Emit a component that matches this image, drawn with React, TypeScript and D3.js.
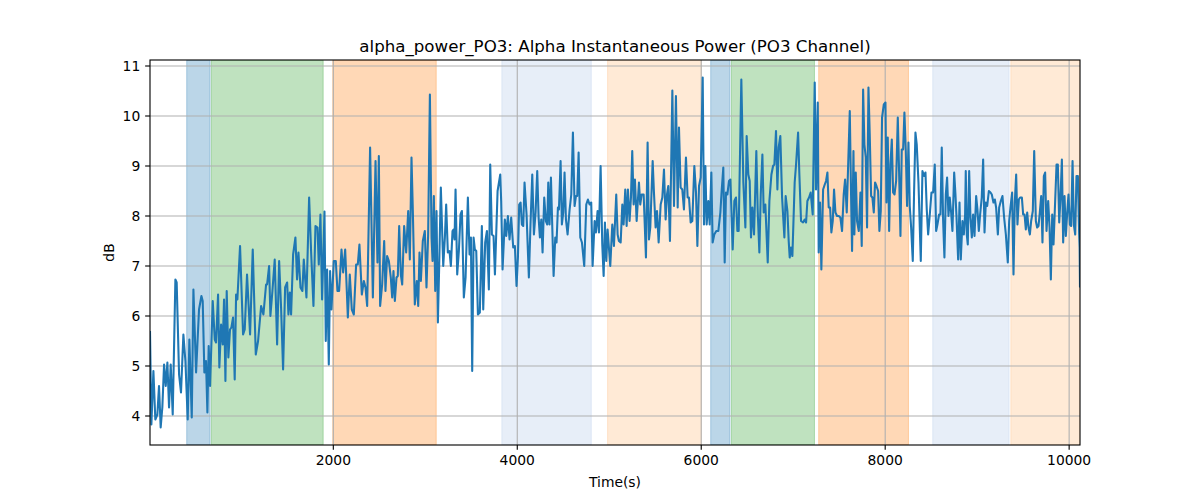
import React from "react";
import * as d3 from "d3";

// ---- data ----
const chartTitle = "alpha_power_PO3: Alpha Instantaneous Power (PO3 Channel)";
const xLabel = "Time(s)";
const yLabel = "dB";
const xTicks = [2000, 4000, 6000, 8000, 10000];
const yTicks = [4, 5, 6, 7, 8, 9, 10, 11];

// shaded epochs [start s, end s]
const bandStart = [406, 674, 1994, 3832, 4982, 6103, 6328, 7277, 8517, 9366];
const bandEnd = [660, 1890, 3119, 4805, 6001, 6312, 7231, 8253, 9347, 10118];
const bandColor = [
  "#1f77b4", "#2ca02c", "#ff7f0e", "#aec7e8", "#ffbb78",
  "#1f77b4", "#2ca02c", "#ff7f0e", "#aec7e8", "#ffbb78",
];

// [time (s), power (dB)]
const alphaPower: [number, number][] = [
  [7,5.7],[22,3.83],[44,4.9],[65,3.93],[87,4.03],[105,4.6],[123,3.77],[141,4.17],[160,5.03],[178,4.6],
  [196,5.07],[214,4.17],[232,5.03],[254,4.03],[283,6.73],[297,6.67],[323,4.83],[344,4.47],[370,5.63],[392,5.1],
  [417,3.93],[435,5.53],[461,3.97],[479,6.53],[508,4.87],[540,6.13],[566,6.4],[580,6.3],[598,4.87],[616,5.1],
  [631,4.07],[645,5.4],[660,4.6],[689,6.3],[711,5.53],[725,5.47],[747,6.43],[761,4.97],[780,5.83],[798,5.43],
  [812,6.33],[827,4.7],[841,6.5],[859,5.17],[877,5.73],[892,5.77],[910,5.97],[928,4.73],[943,6.43],[957,6.33],
  [986,7.4],[1019,5.63],[1037,5.73],[1062,6.83],[1095,5.63],[1124,7.33],[1157,5.23],[1182,5.5],[1215,6.2],[1240,6.03],
  [1269,6.63],
  [1280,6.63],[1302,7.0],[1316,6.0],[1338,6.5],[1363,7.13],[1389,5.43],[1411,7.1],[1432,6.17],[1454,4.93],[1476,6.57],
  [1498,6.67],[1512,6.03],[1527,6.47],[1541,6.03],[1563,7.23],[1588,7.57],[1606,6.73],[1621,7.27],[1643,6.57],[1664,6.5],
  [1679,7.13],[1708,6.37],[1737,8.37],[1759,7.27],[1784,6.2],[1806,7.8],[1828,7.77],[1842,7.03],[1860,8.03],[1878,6.33],
  [1904,8.09],[1918,5.5],[1933,6.93],[1951,5.03],[1965,6.9],[1980,6.13],[2005,7.1],[2027,7.1],[2045,6.5],[2063,6.5],
  [2089,7.33],[2107,6.87],[2129,7.33],[2158,5.97],[2179,6.83],[2201,6.13],[2223,6.03],[2248,7.03],[2266,7.03],[2284,7.43],
  [2310,6.43],[2332,6.7],[2350,6.57],[2368,6.2],[2400,9.37],[2430,6.37],[2459,9.1],[2480,7.07],[2495,9.2],[2509,6.2],
  [2531,6.63],[2553,7.5],[2567,6.5],[2585,7.2],[2604,7.1],[2625,6.77],[2640,6.37],[2654,6.9],[2669,6.3],[2687,6.77],
  [2701,6.8],[2716,7.8],[2734,6.83],[2749,6.63],[2770,7.8],[2792,7.27],[2814,8.1],[2832,7.13],[2850,9.17],[2865,8.07],
  [2886,6.23],[2908,6.7],[2923,6.2],[2937,7.27],[2952,6.7],[2973,7.5],[2995,7.7],[3013,6.57],[3031,7.63],[3050,10.43],
  [3068,7.57],[3079,7.1],[3093,8.4],[3108,6.5],[3122,8.1],[3137,5.87],[3151,7.0],[3169,8.57],[3195,7.0],[3213,7.57],
  [3227,8.23],[3245,7.27],[3263,7.3],[3278,7.0],[3296,7.7],[3307,7.73],[3318,7.53],[3329,8.53],[3347,6.83],[3365,7.3],
  [3383,8.03],[3398,8.1],[3419,6.37],[3438,6.77],[3463,8.37],[3481,7.23],[3496,7.57],[3510,4.9],[3525,7.57],[3539,7.33],
  [3554,7.3],[3572,6.03],[3593,6.07],[3615,7.8],[3630,6.13],[3651,7.47],[3670,7.7],[3691,6.53],[3706,9.03],[3724,7.63],
  [3742,7.6],[3757,6.83],[3786,8.5],
  [3815,8.83],[3825,8.3],[3840,6.93],[3865,7.93],[3880,7.6],[3898,8.0],[3916,7.53],[3934,7.97],[3956,7.37],[3974,7.4],
  [3992,6.6],[4007,7.17],[4021,8.23],[4036,8.27],[4050,7.83],[4065,7.8],[4079,8.67],[4101,8.03],[4126,6.77],[4145,7.9],
  [4163,8.83],[4181,7.63],[4199,8.07],[4217,8.9],[4232,7.97],[4246,7.57],[4261,7.93],[4275,7.27],[4293,8.37],[4311,7.9],
  [4326,7.83],[4337,8.67],[4351,7.83],[4366,8.77],[4395,6.8],[4413,7.57],[4427,7.47],[4442,8.17],[4453,8.13],[4471,9.1],
  [4485,7.83],[4500,8.07],[4514,8.87],[4529,7.93],[4547,7.63],[4569,8.13],[4587,8.43],[4605,9.67],[4623,8.2],[4638,8.4],
  [4652,8.4],[4667,9.27],[4685,7.57],[4703,7.47],[4728,7.0],[4750,8.23],[4768,8.33],[4786,8.23],[4804,8.27],[4819,7.0],
  [4841,7.9],[4855,7.67],[4873,8.1],[4888,7.67],[4906,9.0],[4924,7.43],[4939,6.8],[4953,7.87],[4968,7.1],[4982,7.73],
  [5011,7.0],[5033,7.83],[5051,7.4],
  [5076,8.43],[5091,7.63],[5105,7.5],[5124,7.47],[5142,8.23],[5156,7.83],[5174,8.53],[5189,7.8],[5203,8.53],[5221,7.9],
  [5236,8.37],[5250,9.3],[5265,8.23],[5279,8.73],[5298,7.9],[5323,8.67],[5337,8.23],[5352,8.43],[5374,8.43],[5399,7.17],
  [5417,9.47],[5432,7.53],[5446,7.77],[5472,9.1],[5486,8.47],[5504,7.77],[5519,8.1],[5537,7.47],[5559,8.23],[5577,8.37],
  [5595,8.93],[5613,7.93],[5628,8.43],[5642,8.6],[5660,7.5],[5686,10.51],[5704,8.2],[5725,10.4],[5744,8.17],[5758,9.77],
  [5776,8.57],[5794,8.53],[5812,8.13],[5834,9.17],[5852,8.37],[5867,8.37],[5885,7.87],[5903,7.9],[5925,9.0],[5943,8.47],
  [5958,7.4],[5976,8.6],[5994,8.77],[6016,10.77],[6030,7.83],[6045,9.0],[6059,7.83],[6077,8.3],[6092,7.83],[6110,8.87],
  [6124,7.47],[6142,7.63],[6164,7.7],[6186,7.7],[6208,8.07],[6222,8.5],[6240,8.97],[6255,7.07],[6269,8.47],[6284,8.43],
  [6302,8.7],[6317,8.73],
  [6342,7.33],[6360,8.3],[6378,8.37],[6393,7.7],[6407,7.7],[6436,10.73],[6458,8.67],[6480,7.77],[6494,9.6],[6512,8.83],
  [6527,8.7],[6541,7.57],[6556,8.17],[6574,7.63],[6599,9.3],[6614,8.1],[6632,7.27],[6647,8.43],[6665,9.23],[6679,8.07],
  [6697,8.23],[6723,7.07],[6741,8.3],[6763,8.83],[6781,9.0],[6795,9.03],[6813,9.7],[6828,8.53],[6842,9.37],[6860,9.6],
  [6879,8.37],[6904,7.57],[6918,8.4],[6937,8.1],[6951,7.5],[6962,7.17],[6976,7.37],[6991,7.2],[7016,8.67],[7031,9.03],
  [7053,9.67],[7067,8.83],[7085,7.9],[7107,7.87],[7125,7.93],[7140,7.87],[7154,8.3],[7172,8.37],[7190,8.47],[7212,8.03],
  [7234,10.67],[7248,8.53],[7267,10.27],[7277,7.27],[7292,8.27],[7306,6.93],[7325,8.53],[7343,8.63],[7357,8.7],[7372,8.87],
  [7386,8.17],[7401,8.17],[7415,7.67],[7430,7.9],[7444,8.53],[7459,8.07],[7477,8.0],[7495,8.0],[7513,7.97],[7531,7.7],
  [7549,8.43],[7564,8.73],[7582,8.07],
  [7615,10.1],[7629,8.43],[7640,7.3],[7655,9.3],[7665,7.63],[7680,8.87],[7694,7.9],[7713,7.7],[7731,8.47],[7745,7.4],
  [7760,10.53],[7774,9.43],[7789,9.17],[7803,7.77],[7818,10.57],[7832,9.63],[7847,8.4],[7861,8.37],[7876,8.07],[7890,8.67],
  [7905,8.6],[7923,8.5],[7937,7.7],[7952,8.1],[7966,9.97],[7985,10.23],[8003,10.27],[8014,8.27],[8028,9.57],[8043,7.7],
  [8057,9.03],[8072,9.53],[8086,8.47],[8101,8.43],[8119,8.7],[8137,9.97],[8151,8.9],[8166,7.6],[8180,9.33],[8195,9.33],
  [8209,10.07],[8224,9.3],[8238,8.2],[8253,9.47],[8267,8.2],[8282,7.77],[8300,7.1],[8314,8.47],[8329,9.67],[8343,9.43],
  [8362,8.67],[8387,7.1],[8405,8.9],[8423,8.8],[8438,8.87],[8452,8.13],[8467,7.63],[8485,8.03],[8503,8.47],[8521,8.47],
  [8539,9.03],[8554,7.7],[8568,7.83],[8586,8.03],[8601,8.03],[8615,9.37],[8630,7.9],[8644,7.17],[8659,8.43],[8673,8.77],
  [8688,8.0],[8702,8.37],[8717,8.07],[8731,7.7],[8750,8.87],[8764,8.43],[8775,8.0],[8793,7.13],[8808,8.27],[8822,7.13],
  [8840,7.9],[8855,7.63],[8869,8.03],
  [8876,8.9],[8887,7.63],[8898,7.43],[8913,8.9],[8927,7.97],[8942,7.57],[8956,8.03],[8971,7.6],[8989,8.4],[9003,8.13],
  [9018,7.7],[9032,8.03],[9050,8.37],[9065,9.13],[9080,7.67],[9094,8.27],[9109,8.2],[9127,8.5],[9145,8.47],[9159,8.43],
  [9177,8.27],[9192,8.33],[9206,8.17],[9225,7.63],[9239,8.17],[9257,8.3],[9275,8.4],[9293,7.97],[9312,7.63],[9333,7.07],
  [9348,7.9],[9362,8.17],[9380,8.47],[9395,6.83],[9409,8.27],[9424,8.83],[9438,7.83],[9453,8.33],[9467,8.37],[9486,8.37],
  [9500,8.03],[9515,8.03],[9529,7.73],[9544,8.07],[9558,7.77],[9573,7.63],[9587,7.9],[9605,8.1],[9620,9.3],[9638,7.9],
  [9652,7.77],[9667,7.8],[9681,8.07],[9696,8.4],[9710,7.47],[9725,8.8],[9739,8.87],[9754,7.7],[9772,8.3],[9787,7.77],
  [9801,6.73],[9816,8.03],[9830,7.43],[9848,8.3],[9863,9.03],[9877,9.03],[9892,7.87],[9906,8.37],[9921,9.13],[9935,7.47],
  [9950,8.4],[9964,7.6],[9979,8.07],[9993,8.43],[10008,7.83],[10022,7.8],[10037,9.1],[10051,7.83],[10066,7.63],[10080,8.8],
  [10095,8.8],[10109,7.63],[10114,7.37],[10118,6.57],
];

const W = 1200;
const H = 500;
const M = { left: 150, right: 1080, top: 60, bottom: 445 };
const FONT = "'DejaVu Sans', sans-serif";
const PT = 100 / 72; // matplotlib points -> px at 100 dpi

export default function App() {
  const xExt = d3.extent(alphaPower, (d) => d[0]) as [number, number];
  const yExt = d3.extent(alphaPower, (d) => d[1]) as [number, number];
  const pad = (yExt[1] - yExt[0]) * 0.05;
  const x = d3.scaleLinear().domain(xExt).range([M.left, M.right]);
  const y = d3.scaleLinear().domain([yExt[0] - pad, yExt[1] + pad]).range([M.bottom, M.top]);
  const line = d3
    .line<[number, number]>()
    .x((d) => x(d[0]))
    .y((d) => y(d[1]));
  const bands = bandStart.map((s, i) => ({ s, e: bandEnd[i], c: bandColor[i] }));
  const tickLen = 3.5 * PT;
  const tickPad = 3.5 * PT;
  const fs = 10 * PT;

  return (
    <svg
      width={W}
      height={H}
      style={{ position: "absolute", left: 0, top: 0, background: "#fff" }}
      fontFamily={FONT}
    >
      <rect x={0} y={0} width={W} height={H} fill="#fff" />
      <defs>
        <clipPath id="plotclip">
          <rect x={M.left} y={M.top} width={M.right - M.left} height={M.bottom - M.top} />
        </clipPath>
      </defs>
      <g clipPath="url(#plotclip)">
        {bands.map((b, i) => (
          <rect
            key={i}
            x={x(b.s)}
            y={M.top}
            width={x(b.e) - x(b.s)}
            height={M.bottom - M.top}
            fill={b.c}
            fillOpacity={0.3}
            stroke={b.c}
            strokeOpacity={0.3}
            strokeWidth={1}
          />
        ))}
        {xTicks.map((t) => (
          <line key={"gx" + t} x1={x(t)} x2={x(t)} y1={M.top} y2={M.bottom} stroke="#b0b0b0" strokeWidth={0.8 * PT} />
        ))}
        {yTicks.map((t) => (
          <line key={"gy" + t} x1={M.left} x2={M.right} y1={y(t)} y2={y(t)} stroke="#b0b0b0" strokeWidth={0.8 * PT} />
        ))}
        <path
          d={line(alphaPower) || ""}
          fill="none"
          stroke="#1f77b4"
          strokeWidth={1.5 * PT}
          strokeLinejoin="round"
          strokeLinecap="butt"
        />
      </g>
      <rect
        x={M.left}
        y={M.top}
        width={M.right - M.left}
        height={M.bottom - M.top}
        fill="none"
        stroke="#000"
        strokeWidth={0.8 * PT}
      />
      {xTicks.map((t) => (
        <g key={"tx" + t}>
          <line x1={x(t)} x2={x(t)} y1={M.bottom} y2={M.bottom + tickLen} stroke="#000" strokeWidth={0.8 * PT} />
          <text x={x(t)} y={M.bottom + tickLen + tickPad + fs * 0.76} fontSize={fs} textAnchor="middle" fill="#000">
            {t}
          </text>
        </g>
      ))}
      {yTicks.map((t) => (
        <g key={"ty" + t}>
          <line x1={M.left - tickLen} x2={M.left} y1={y(t)} y2={y(t)} stroke="#000" strokeWidth={0.8 * PT} />
          <text x={M.left - tickLen - tickPad} y={y(t)} dy="0.36em" fontSize={fs} textAnchor="end" fill="#000">
            {t}
          </text>
        </g>
      ))}
      <text x={(M.left + M.right) / 2} y={487} fontSize={fs} textAnchor="middle" fill="#000">
        {xLabel}
      </text>
      <text
        transform={`translate(114, ${(M.top + M.bottom) / 2}) rotate(-90)`}
        fontSize={fs}
        textAnchor="middle"
        fill="#000"
      >
        {yLabel}
      </text>
      <text x={(M.left + M.right) / 2} y={52} fontSize={12 * PT} textAnchor="middle" fill="#000">
        {chartTitle}
      </text>
    </svg>
  );
}
